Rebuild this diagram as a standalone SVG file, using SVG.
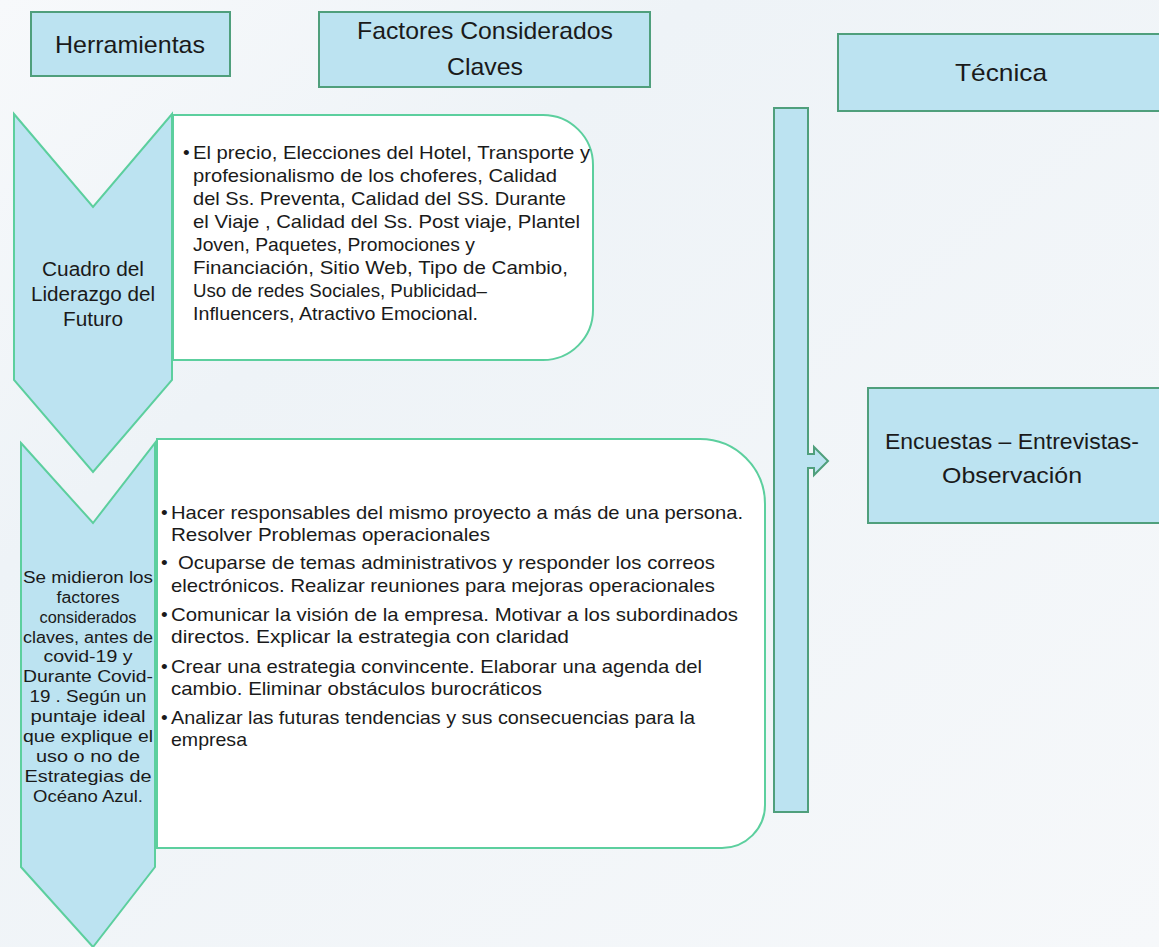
<svg xmlns="http://www.w3.org/2000/svg" width="1159" height="947" viewBox="0 0 1159 947">
  <style>
    .hdr { fill: #bce3f1; stroke: #4f9f7c; stroke-width: 2; }
    .chev { fill: #bce3f1; stroke: #5ccf9e; stroke-width: 2; stroke-linejoin: miter; }
    .panel { fill: #ffffff; stroke: #5ccf9e; stroke-width: 2; }
    .bar { fill: #bce3f1; stroke: #4f9f7c; stroke-width: 2; }
    text { font-family: "Liberation Sans", Arial, sans-serif; fill: #1a1a1a; }
    .h { font-size: 24px; text-anchor: middle; }
    .h2 { font-size: 22.5px; text-anchor: middle; }
    .c1 { font-size: 20px; text-anchor: middle; }
    .c2 { font-size: 16px; text-anchor: middle; }
    .t1 { font-size: 19px; }
    .t2 { font-size: 19px; }
  </style>
  <defs>
    <linearGradient id="bg" x1="0" y1="0" x2="1" y2="1">
      <stop offset="0" stop-color="#f7f9fb"/>
      <stop offset="0.3" stop-color="#eef3f7"/>
      <stop offset="1" stop-color="#f6f8fa"/>
    </linearGradient>
  </defs>

  <!-- background -->
  <rect x="0" y="0" width="1159" height="947" fill="url(#bg)"/>

  <!-- column headers -->
  <g id="hdr-herramientas">
    <rect class="hdr" x="31" y="12" width="199" height="64"/>
    <text class="h" x="130" y="53" textLength="150" lengthAdjust="spacingAndGlyphs">Herramientas</text>
  </g>
  <g id="hdr-factores">
    <rect class="hdr" x="319" y="12" width="331" height="75"/>
    <text class="h" x="485" y="39" textLength="256" lengthAdjust="spacingAndGlyphs">Factores Considerados</text>
    <text class="h" x="485" y="75" textLength="76" lengthAdjust="spacingAndGlyphs">Claves</text>
  </g>
  <g id="hdr-tecnica">
    <rect class="hdr" x="838" y="34" width="330" height="77"/>
    <text class="h" x="1001" y="81" textLength="92" lengthAdjust="spacingAndGlyphs">Técnica</text>
  </g>

  <!-- tool 1: chevron + factor list -->
  <g id="tool-cuadro">
    <path class="chev" d="M14,114 L93,207 L172,114 L172,380 L93,472 L14,380 Z"/>
    <text class="c1" x="93" y="276" textLength="102" lengthAdjust="spacingAndGlyphs">Cuadro del</text>
    <text class="c1" x="93" y="301" textLength="124" lengthAdjust="spacingAndGlyphs">Liderazgo del</text>
    <text class="c1" x="93" y="326" textLength="60" lengthAdjust="spacingAndGlyphs">Futuro</text>
  </g>
  <g id="factores-lista">
    <path class="panel" d="M173,115 H543 A50,50 0 0 1 593,165 V310 A50,50 0 0 1 543,360 H173 Z"/>
    <text class="t1" x="183" y="159">•</text>
    <text class="t1" x="193" y="159" textLength="397" lengthAdjust="spacingAndGlyphs">El precio, Elecciones del Hotel, Transporte y</text>
    <text class="t1" x="193" y="182" textLength="364" lengthAdjust="spacingAndGlyphs">profesionalismo de los choferes, Calidad</text>
    <text class="t1" x="193" y="205" textLength="373" lengthAdjust="spacingAndGlyphs">del Ss. Preventa, Calidad del SS. Durante</text>
    <text class="t1" x="193" y="228" textLength="387" lengthAdjust="spacingAndGlyphs">el Viaje , Calidad del Ss. Post viaje, Plantel</text>
    <text class="t1" x="193" y="251" textLength="282" lengthAdjust="spacingAndGlyphs">Joven, Paquetes, Promociones y</text>
    <text class="t1" x="193" y="274" textLength="375" lengthAdjust="spacingAndGlyphs">Financiación, Sitio Web, Tipo de Cambio,</text>
    <text class="t1" x="193" y="297" textLength="294" lengthAdjust="spacingAndGlyphs">Uso de redes Sociales, Publicidad–</text>
    <text class="t1" x="193" y="320" textLength="285" lengthAdjust="spacingAndGlyphs">Influencers, Atractivo Emocional.</text>
  </g>

  <!-- tool 2: chevron + leadership actions -->
  <g id="tool-medicion">
    <path class="chev" d="M21,443 L93,523 L155,443 L155,867 L93,947 L21,867 Z"/>
    <text class="c2" x="88" y="583" textLength="130" lengthAdjust="spacingAndGlyphs">Se midieron los</text>
    <text class="c2" x="88" y="603" textLength="63" lengthAdjust="spacingAndGlyphs">factores</text>
    <text class="c2" x="88" y="623" textLength="97" lengthAdjust="spacingAndGlyphs">considerados</text>
    <text class="c2" x="88" y="643" textLength="130" lengthAdjust="spacingAndGlyphs">claves, antes de</text>
    <text class="c2" x="88" y="662" textLength="89" lengthAdjust="spacingAndGlyphs">covid-19 y</text>
    <text class="c2" x="88" y="682" textLength="130" lengthAdjust="spacingAndGlyphs">Durante Covid-</text>
    <text class="c2" x="88" y="702" textLength="117" lengthAdjust="spacingAndGlyphs">19 . Según un</text>
    <text class="c2" x="88" y="722" textLength="115" lengthAdjust="spacingAndGlyphs">puntaje ideal</text>
    <text class="c2" x="88" y="742" textLength="130" lengthAdjust="spacingAndGlyphs">que explique el</text>
    <text class="c2" x="88" y="762" textLength="104" lengthAdjust="spacingAndGlyphs">uso o no de</text>
    <text class="c2" x="88" y="782" textLength="127" lengthAdjust="spacingAndGlyphs">Estrategias de</text>
    <text class="c2" x="88" y="802" textLength="110" lengthAdjust="spacingAndGlyphs">Océano Azul.</text>
  </g>
  <g id="acciones-lista">
    <path class="panel" d="M157,439 H700 A65,65 0 0 1 765,504 V805 A43,43 0 0 1 722,848 H157 Z"/>
    <text class="t2" x="161" y="519">•</text>
    <text class="t2" x="171" y="519" textLength="572" lengthAdjust="spacingAndGlyphs">Hacer responsables del mismo proyecto a más de una persona.</text>
    <text class="t2" x="171" y="541" textLength="319" lengthAdjust="spacingAndGlyphs">Resolver Problemas operacionales</text>
    <text class="t2" x="161" y="569">•</text>
    <text class="t2" x="178" y="569" textLength="537" lengthAdjust="spacingAndGlyphs">Ocuparse de temas administrativos y responder los correos</text>
    <text class="t2" x="171" y="592" textLength="544" lengthAdjust="spacingAndGlyphs">electrónicos. Realizar reuniones para mejoras operacionales</text>
    <text class="t2" x="161" y="621">•</text>
    <text class="t2" x="171" y="621" textLength="567" lengthAdjust="spacingAndGlyphs">Comunicar la visión de la empresa. Motivar a los subordinados</text>
    <text class="t2" x="171" y="643" textLength="398" lengthAdjust="spacingAndGlyphs">directos. Explicar la estrategia con claridad</text>
    <text class="t2" x="161" y="673">•</text>
    <text class="t2" x="171" y="673" textLength="531" lengthAdjust="spacingAndGlyphs">Crear una estrategia convincente. Elaborar una agenda del</text>
    <text class="t2" x="171" y="695" textLength="371" lengthAdjust="spacingAndGlyphs">cambio. Eliminar obstáculos burocráticos</text>
    <text class="t2" x="161" y="724">•</text>
    <text class="t2" x="171" y="724" textLength="524" lengthAdjust="spacingAndGlyphs">Analizar las futuras tendencias y sus consecuencias para la</text>
    <text class="t2" x="171" y="746" textLength="76" lengthAdjust="spacingAndGlyphs">empresa</text>
  </g>

  <!-- connector: vertical collector bar with arrow to the technique box -->
  <g id="connectors">
    <rect class="bar" x="774" y="108" width="34" height="704"/>
    <path class="bar" d="M808,454 H814 V447 L828,461 L814,475 V468 H808"/>
    <rect x="805" y="455" width="10" height="12" fill="#bce3f1"/>
  </g>

  <g id="tecnica-resultado">
    <rect class="hdr" x="868" y="388" width="300" height="135"/>
    <text class="h2" x="1012" y="449" textLength="254" lengthAdjust="spacingAndGlyphs">Encuestas – Entrevistas-</text>
    <text class="h2" x="1012" y="483" textLength="140" lengthAdjust="spacingAndGlyphs">Observación</text>
  </g>
</svg>
